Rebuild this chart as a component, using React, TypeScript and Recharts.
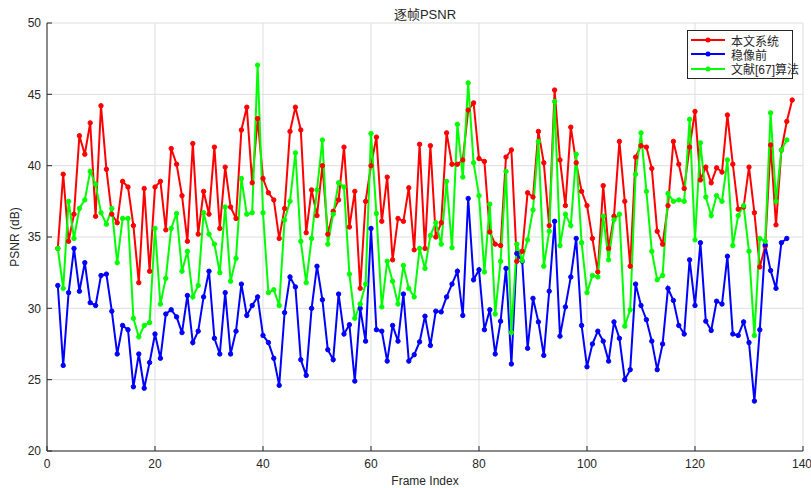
import React from 'react'
import { LineChart, Line, XAxis, YAxis, CartesianGrid } from 'recharts'

const firstFrame = 2
const frames = Array.from({ length: 137 }, (_, i) => i + firstFrame)

const ours = [
  34.2, 39.4, 34.7, 36.6, 42.1, 40.8, 43.0, 36.45, 44.2, 39.75, 36.6, 36.0, 38.9, 38.5, 35.8, 31.8, 38.4, 32.6, 38.5, 38.9,
  35.5, 41.2, 40.1, 37.9, 34.7, 41.55, 35.2, 38.2, 36.6, 41.3, 35.6, 39.9, 37.1, 36.3, 42.5, 44.1, 38.8, 43.3, 39.1, 38.1,
  37.6, 34.9, 37.0, 42.4, 44.1, 42.5, 35.3, 38.3, 36.5, 40.0, 35.2, 36.8, 37.6, 41.3, 35.7, 38.2, 31.4, 37.5, 40.0, 42.0,
  36.1, 39.2, 33.4, 36.3, 36.1, 38.45, 34.1, 41.5, 34.2, 41.4, 35.0, 36.0, 42.3, 40.1, 40.1, 40.4, 43.9, 44.4, 40.5, 40.3,
  35.35, 34.5, 34.4, 40.6, 41.1, 33.3, 34.0, 38.1, 37.8, 42.4, 40.2, 35.8, 45.3, 40.4, 37.2, 42.7, 40.2, 38.2, 37.2, 34.9,
  32.55, 38.6, 34.2, 36.45, 41.7, 37.5, 32.95, 40.6, 41.4, 41.3, 39.8, 35.4, 34.5, 37.2, 41.7, 40.1, 38.4, 41.3, 43.8, 39.0,
  39.9, 38.8, 39.85, 39.55, 43.55, 40.1, 36.95, 37.1, 39.9, 36.7, 32.9, 34.35, 41.45, 35.85, 41.1, 43.1, 44.6,
]

const before = [
  31.6, 26.0, 31.1, 34.2, 31.2, 33.2, 30.4, 30.2, 32.3, 32.4, 29.8, 26.8, 28.8, 28.5, 24.5, 26.8, 24.4, 26.2, 28.2, 26.5,
  29.6, 29.9, 29.4, 28.3, 30.9, 27.6, 28.4, 30.8, 32.6, 27.9, 26.8, 31.1, 26.8, 28.4, 31.7, 29.5, 30.2, 30.8, 28.1, 27.6,
  26.5, 24.6, 29.7, 32.2, 31.5, 26.4, 25.3, 30.0, 32.95, 30.6, 27.1, 26.4, 31.0, 28.2, 28.85, 24.9, 30.0, 27.7, 35.6, 28.5,
  28.4, 26.3, 28.8, 27.7, 31.0, 26.3, 26.75, 27.65, 29.45, 27.4, 29.8, 29.75, 30.8, 31.7, 32.6, 29.5, 37.7, 32.0, 32.7, 28.5,
  29.9, 26.8, 29.1, 32.8, 26.1, 33.85, 33.3, 27.2, 30.7, 29.05, 26.7, 31.2, 36.1, 28.05, 30.1, 32.2, 34.9, 28.8, 25.9, 27.5,
  28.4, 27.7, 26.3, 29.05, 27.9, 25.0, 25.7, 31.7, 30.2, 29.2, 27.7, 25.7, 27.5, 31.4, 30.55, 28.8, 28.2, 33.4, 30.2, 34.6,
  29.1, 28.45, 30.5, 30.3, 33.65, 28.2, 28.1, 29.05, 27.6, 23.5, 28.5, 34.45, 32.65, 31.4, 34.6, 34.9,
]

const ref67 = [
  34.2, 31.4, 37.5, 34.9, 37.0, 37.6, 39.6, 38.7, 36.7, 35.9, 37.0, 33.2, 36.3, 36.3, 29.3, 28.0, 28.8, 29.0, 35.6, 30.3,
  32.1, 35.6, 36.65, 32.6, 34.0, 30.8, 31.6, 36.7, 35.2, 34.5, 32.5, 37.1, 31.9, 33.5, 39.1, 36.6, 36.7, 47.05, 36.7, 31.1,
  31.3, 30.2, 36.2, 37.5, 40.9, 34.7, 31.8, 34.9, 38.3, 41.8, 34.5, 36.6, 38.8, 38.5, 32.4, 29.3, 30.3, 31.7, 42.25, 36.65,
  30.1, 33.3, 31.9, 30.3, 33.0, 31.4, 30.8, 34.2, 32.8, 35.1, 36.0, 34.5, 38.9, 34.25, 42.9, 39.2, 45.8, 40.2, 37.9, 32.55,
  37.3, 29.6, 33.3, 39.6, 28.3, 34.5, 33.35, 34.8, 36.9, 41.7, 32.95, 35.4, 44.5, 34.4, 36.6, 35.8, 40.8, 34.6, 31.1, 32.3,
  32.2, 36.45, 33.4, 36.2, 36.6, 28.75, 29.9, 39.4, 42.3, 38.2, 34.0, 32.0, 32.3, 38.05, 37.5, 37.6, 37.5, 43.25, 34.8, 41.6,
  37.8, 36.5, 37.9, 37.5, 40.4, 34.4, 36.5, 37.2, 34.0, 28.1, 34.9, 34.7, 43.7, 37.5, 41.1, 41.8,
]

const xTicks = [0, 20, 40, 60, 80, 100, 120, 140]
const yTicks = [20, 25, 30, 35, 40, 45, 50]

const seriesNames = ['本文系统', '稳像前', '文献[67]算法']
const seriesColors = ['#ff0000', '#0000ff', '#00ff00']

const data = frames.map((f, i) => ({
  frame: f,
  ours: ours[i],
  before: before[i],
  ref67: ref67[i],
}))

const font = '"Liberation Sans", Arial, "Noto Sans CJK SC", sans-serif'
const axisColor = '#262626'

function LegendBox() {
  return (
    <div
      style={{
        position: 'absolute',
        left: 687,
        top: 30,
        width: 104,
        height: 45,
        boxSizing: 'content-box',
        border: '1px solid #262626',
        background: '#fff',
        paddingTop: 2,
        fontFamily: font,
        fontSize: 12,
        color: '#262626',
        whiteSpace: 'nowrap',
      }}
    >
      {seriesNames.map((n, i) => (
        <div key={n} style={{ display: 'flex', alignItems: 'center', height: 14.3 }}>
          <svg width={40} height={10} style={{ marginLeft: 3, flexShrink: 0 }}>
            <line x1={0} y1={5} x2={34} y2={5} stroke={seriesColors[i]} strokeWidth={2} />
            <circle cx={17} cy={5} r={2.5} fill={seriesColors[i]} />
          </svg>
          <span>{n}</span>
        </div>
      ))}
    </div>
  )
}

export default function App() {
  const keys = ['ours', 'before', 'ref67']
  return (
    <div style={{ position: 'absolute', left: 0, top: 0, width: 811, height: 488, background: '#fff' }}>
      <div
        style={{
          position: 'absolute',
          top: 4,
          left: 325,
          width: 200,
          textAlign: 'center',
          fontFamily: font,
          fontSize: 13,
          color: '#262626',
        }}
      >
        逐帧PSNR
      </div>
      <LineChart
        width={811}
        height={488}
        data={data}
        margin={{ top: 23, right: 8, left: 7, bottom: 0 }}
        style={{ fontFamily: font }}
      >
        <CartesianGrid xAxisId="b" yAxisId="l" stroke="#dedede" strokeWidth={1} />
        <XAxis
          xAxisId="b"
          dataKey="frame"
          type="number"
          domain={[0, 140]}
          ticks={xTicks}
          height={37}
          tickSize={-5}
          tickMargin={13}
          stroke={axisColor}
          tick={{ fill: axisColor, fontSize: 12 }}
          label={{ value: 'Frame Index', position: 'insideBottom', offset: 3, fill: axisColor, fontSize: 12 }}
        />
        <XAxis
          xAxisId="t"
          orientation="top"
          dataKey="frame"
          type="number"
          domain={[0, 140]}
          ticks={xTicks}
          height={0}
          tickSize={-5}
          tick={false}
          stroke={axisColor}
        />
        <YAxis
          yAxisId="l"
          domain={[20, 50]}
          ticks={yTicks}
          width={40}
          tickSize={-5}
          tickMargin={11}
          stroke={axisColor}
          tick={{ fill: axisColor, fontSize: 12 }}
          label={{ value: 'PSNR (dB)', angle: -90, position: 'insideLeft', offset: 8, fill: axisColor, fontSize: 12, style: { textAnchor: 'middle' } }}
        />
        <YAxis
          yAxisId="r"
          orientation="right"
          domain={[20, 50]}
          ticks={yTicks}
          width={0}
          tickSize={-5}
          tick={false}
          stroke={axisColor}
        />
        {keys.map((k, i) => (
          <Line
            key={k}
            xAxisId="b"
            yAxisId="l"
            dataKey={k}
            name={seriesNames[i]}
            stroke={seriesColors[i]}
            strokeWidth={2}
            dot={{ r: 2.2, fill: seriesColors[i], stroke: seriesColors[i], strokeWidth: 1 }}
            isAnimationActive={false}
            connectNulls={false}
          />
        ))}
      </LineChart>
      <LegendBox />
    </div>
  )
}
